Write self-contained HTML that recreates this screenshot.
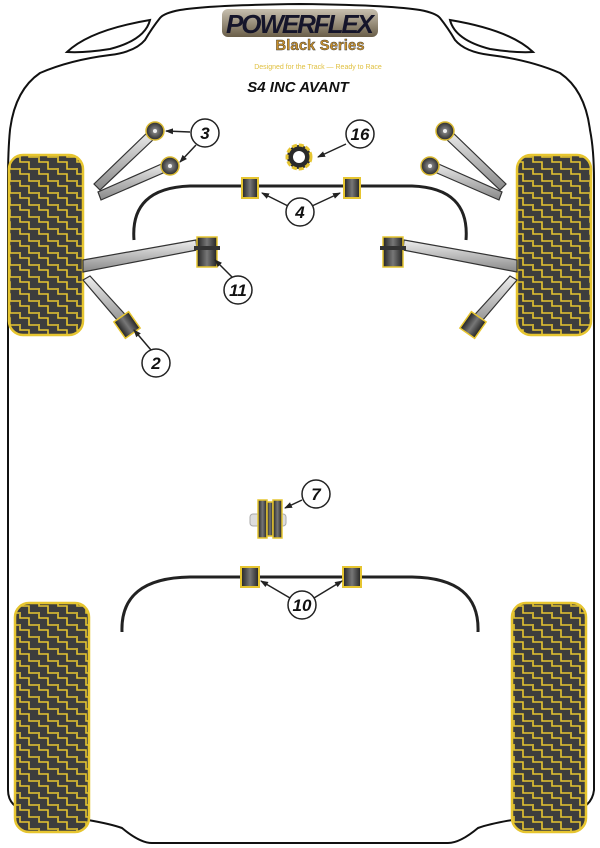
<!DOCTYPE html>
<html><head><meta charset="utf-8"><style>
html,body{margin:0;padding:0;background:#fff}
svg{display:block}
text{font-family:"Liberation Sans",sans-serif}
</style></head><body>
<svg width="600" height="848" viewBox="0 0 600 848" xmlns="http://www.w3.org/2000/svg">
<defs>
<pattern id="tp" width="19" height="12" patternUnits="userSpaceOnUse">
<rect width="19" height="12" fill="#3d3d3d"/>
<path d="M1,0 V6 H10 V12 M10,0 V1 H19" fill="none" stroke="#e6c530" stroke-width="1.6"/>
</pattern>
<linearGradient id="bar" x1="0" y1="0" x2="0" y2="1"><stop offset="0" stop-color="#eee"/><stop offset="1" stop-color="#888"/></linearGradient>
<radialGradient id="bg" cx="0.5" cy="0.5" r="0.5"><stop offset="0" stop-color="#999"/><stop offset="1" stop-color="#2a2a2a"/></radialGradient>
<linearGradient id="bk" x1="0" y1="0" x2="1" y2="0"><stop offset="0" stop-color="#222"/><stop offset="0.5" stop-color="#777"/><stop offset="1" stop-color="#222"/></linearGradient>
<linearGradient id="lg" x1="0" y1="0" x2="0" y2="1"><stop offset="0" stop-color="#c8c0b0"/><stop offset="1" stop-color="#6a5e48"/></linearGradient>
<marker id="ar" markerWidth="8" markerHeight="8" refX="7" refY="4" orient="auto" markerUnits="userSpaceOnUse"><path d="M0,1 L8,4 L0,7 Z" fill="#222"/></marker>
</defs>
<!-- body -->
<path d="M300,4 Q390,5 420,10 Q436,13 440,18 Q448,28 455,40 Q465,52 490,55 Q530,60 560,73 Q585,90 590,130 Q594,150 594,180 L594,790 Q592,808 570,812 Q500,820 478,828 Q460,843 448,843 L152,843 Q140,843 122,828 Q100,820 30,812 Q8,808 8,790 L8,180 Q8,150 10,130 Q15,90 40,73 Q70,60 110,55 Q135,52 145,40 Q152,28 160,18 Q164,13 180,10 Q210,5 300,4 Z" fill="#fff" stroke="#111" stroke-width="2"/>
<path d="M67,52 Q90,30 150,20 Q145,40 110,49 Q85,53 67,52 Z" fill="#fff" stroke="#111" stroke-width="2"/>
<path d="M533,52 Q510,30 450,20 Q455,40 490,49 Q515,53 533,52 Z" fill="#fff" stroke="#111" stroke-width="2"/>
<!-- tires -->
<g stroke="#e6c530" stroke-width="2.5" fill="url(#tp)">
<rect x="9" y="155" width="74" height="180" rx="14"/>
<rect x="517" y="155" width="74" height="180" rx="14"/>
<rect x="15" y="603" width="74" height="229" rx="14"/>
<rect x="512" y="603" width="74" height="229" rx="14"/>
</g>
<!-- logo -->
<rect x="222" y="9" width="156" height="28" rx="6" fill="url(#lg)"/>
<text x="300" y="33" text-anchor="middle" font-size="26" font-weight="bold" font-style="italic" fill="#15152a" textLength="148">POWERFLEX</text>
<text x="320" y="50" text-anchor="middle" font-size="15" font-weight="bold" fill="#c9902a" stroke="#333" stroke-width="0.4">Black Series</text>
<text x="318" y="69" text-anchor="middle" font-size="7" fill="#e0c040">Designed for the Track — Ready to Race</text>
<text x="298" y="92" text-anchor="middle" font-size="15" font-weight="bold" font-style="italic" fill="#111">S4 INC AVANT</text>
<!-- anti-roll bars -->
<path d="M134,240 Q130,188 190,186 L412,186 Q470,188 466,240" fill="none" stroke="#222" stroke-width="3"/>
<path d="M122,632 Q120,578 190,577 L412,577 Q480,578 478,632" fill="none" stroke="#222" stroke-width="3"/>
<g stroke="#e6c530" stroke-width="2" fill="url(#bk)">
<rect x="242" y="178" width="16" height="20"/>
<rect x="344" y="178" width="16" height="20"/>
<rect x="241" y="567" width="18" height="20"/>
<rect x="343" y="567" width="18" height="20"/>
</g>
<!-- arms -->
<g stroke="#333" stroke-width="1.2" fill="url(#bar)">
<path d="M150,130 L156,137 L100,190 L94,184 Z"/>
<path d="M166,162 L170,170 L101,200 L98,192 Z"/>
<path d="M450,130 L444,137 L500,190 L506,184 Z"/>
<path d="M434,162 L430,170 L499,200 L502,192 Z"/>
<path d="M83,260 L196,240 L197,250 L83,272 Z"/>
<path d="M517,260 L404,240 L403,250 L517,272 Z"/>
<path d="M83,280 L90,276 L132,322 L124,328 Z"/>
<path d="M517,280 L510,276 L468,322 L476,328 Z"/>
</g>
<g stroke="#d8b830" stroke-width="1.5" fill="url(#bg)">
<circle cx="155" cy="131" r="9"/><circle cx="170" cy="166" r="9"/>
<circle cx="445" cy="131" r="9"/><circle cx="430" cy="166" r="9"/>
</g>
<g fill="#eee"><circle cx="155" cy="131" r="2"/><circle cx="170" cy="166" r="2"/><circle cx="445" cy="131" r="2"/><circle cx="430" cy="166" r="2"/></g>
<!-- bush 16 -->
<circle cx="299" cy="157" r="12" fill="#2a2a2a" stroke="#e6c530" stroke-width="3" stroke-dasharray="5 2"/>
<circle cx="299" cy="157" r="6" fill="#fff"/>
<!-- bush 11 -->
<g stroke="#e6c530" stroke-width="1.5" fill="url(#bk)">
<rect x="197" y="237" width="20" height="30"/>
<rect x="383" y="237" width="20" height="30"/>
</g>
<rect x="194" y="246" width="26" height="4" fill="#333"/><rect x="380" y="246" width="26" height="4" fill="#333"/>
<!-- bush 2 -->
<g stroke="#e6c530" stroke-width="1.5" fill="url(#bk)">
<rect x="118" y="315" width="18" height="20" transform="rotate(-35 127 325)"/>
<rect x="464" y="315" width="18" height="20" transform="rotate(35 473 325)"/>
</g>
<!-- bush 7 -->
<rect x="250" y="514" width="36" height="12" rx="3" fill="#ddd" stroke="#aaa"/>
<g stroke="#e6c530" stroke-width="1.5" fill="url(#bk)">
<rect x="258" y="500" width="9" height="38"/><rect x="267" y="502" width="6" height="34"/><rect x="273" y="500" width="9" height="38"/>
</g>
<!-- callouts -->
<g stroke="#222" stroke-width="1.5" marker-end="url(#ar)">
<line x1="190" y1="132" x2="166" y2="131"/>
<line x1="196" y1="145" x2="180" y2="162"/>
<line x1="346" y1="144" x2="318" y2="157"/>
<line x1="288" y1="206" x2="262" y2="193"/>
<line x1="312" y1="206" x2="340" y2="193"/>
<line x1="232" y1="277" x2="215" y2="260"/>
<line x1="151" y1="350" x2="134" y2="330"/>
<line x1="302" y1="500" x2="285" y2="508"/>
<line x1="290" y1="598" x2="261" y2="581"/>
<line x1="314" y1="598" x2="342" y2="581"/>
</g>
<g fill="#fff" stroke="#222" stroke-width="1.5">
<circle cx="205" cy="133" r="14"/><circle cx="360" cy="134" r="14"/><circle cx="300" cy="212" r="14"/>
<circle cx="238" cy="290" r="14"/><circle cx="156" cy="363" r="14"/><circle cx="316" cy="494" r="14"/><circle cx="302" cy="605" r="14"/>
</g>
<g font-size="17" font-weight="bold" font-style="italic" text-anchor="middle" fill="#111">
<text x="205" y="139">3</text><text x="360" y="140">16</text><text x="300" y="218">4</text>
<text x="238" y="296">11</text><text x="156" y="369">2</text><text x="316" y="500">7</text><text x="302" y="611">10</text>
</g>
</svg>
</body></html>
